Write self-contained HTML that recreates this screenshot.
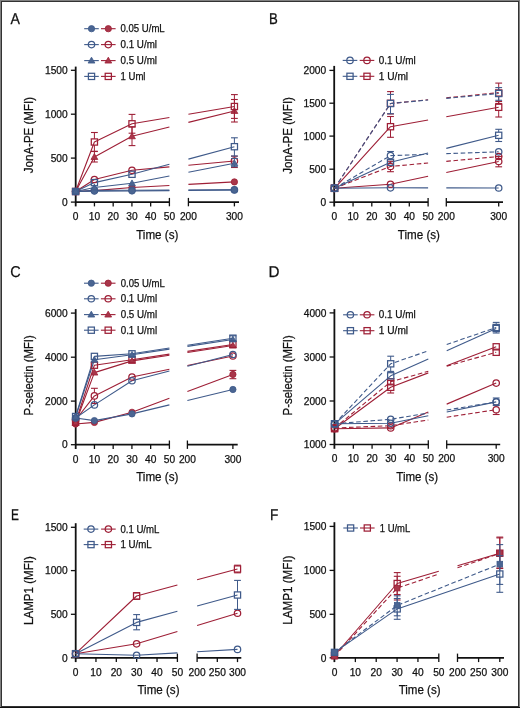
<!DOCTYPE html>
<html><head><meta charset="utf-8"><style>
html,body{margin:0;padding:0;background:#fff;}
body{width:520px;height:708px;overflow:hidden;}
svg{display:block;font-family:"Liberation Sans", sans-serif;will-change:transform;}
text{stroke:#111;stroke-width:0.25px;}
</style></head><body>
<svg width="520" height="708" viewBox="0 0 520 708">
<rect x="0" y="0" width="520" height="708" fill="#fff"/>
<line x1="75.7" y1="66.6" x2="75.7" y2="206.4" stroke="#111" stroke-width="1.8" stroke-linecap="butt"/>
<line x1="70.9" y1="70.3" x2="75.7" y2="70.3" stroke="#111" stroke-width="1.3" stroke-linecap="butt"/>
<text x="67.7" y="74" font-size="10.2" text-anchor="end" fill="#111">1500</text>
<line x1="70.9" y1="114.2" x2="75.7" y2="114.2" stroke="#111" stroke-width="1.3" stroke-linecap="butt"/>
<text x="67.7" y="117.9" font-size="10.2" text-anchor="end" fill="#111">1000</text>
<line x1="70.9" y1="158.1" x2="75.7" y2="158.1" stroke="#111" stroke-width="1.3" stroke-linecap="butt"/>
<text x="67.7" y="161.8" font-size="10.2" text-anchor="end" fill="#111">500</text>
<line x1="70.9" y1="202.1" x2="75.7" y2="202.1" stroke="#111" stroke-width="1.3" stroke-linecap="butt"/>
<text x="67.7" y="205.8" font-size="10.2" text-anchor="end" fill="#111">0</text>
<line x1="75.7" y1="202.1" x2="169.4" y2="202.1" stroke="#111" stroke-width="1.7" stroke-linecap="butt"/>
<line x1="169.4" y1="197.9" x2="169.4" y2="206.3" stroke="#111" stroke-width="1.3" stroke-linecap="butt"/>
<text x="75.7" y="219.9" font-size="10.2" text-anchor="middle" fill="#111">0</text>
<line x1="94.44" y1="202.1" x2="94.44" y2="206.4" stroke="#111" stroke-width="1.3" stroke-linecap="butt"/>
<text x="94.44" y="219.9" font-size="10.2" text-anchor="middle" fill="#111">10</text>
<line x1="113.18" y1="202.1" x2="113.18" y2="206.4" stroke="#111" stroke-width="1.3" stroke-linecap="butt"/>
<text x="113.18" y="219.9" font-size="10.2" text-anchor="middle" fill="#111">20</text>
<line x1="131.92" y1="202.1" x2="131.92" y2="206.4" stroke="#111" stroke-width="1.3" stroke-linecap="butt"/>
<text x="131.92" y="219.9" font-size="10.2" text-anchor="middle" fill="#111">30</text>
<line x1="150.66" y1="202.1" x2="150.66" y2="206.4" stroke="#111" stroke-width="1.3" stroke-linecap="butt"/>
<text x="150.66" y="219.9" font-size="10.2" text-anchor="middle" fill="#111">40</text>
<text x="169.4" y="219.9" font-size="10.2" text-anchor="middle" fill="#111">50</text>
<line x1="188.4" y1="202.1" x2="239" y2="202.1" stroke="#111" stroke-width="1.7" stroke-linecap="butt"/>
<line x1="188.4" y1="197.9" x2="188.4" y2="206.3" stroke="#111" stroke-width="1.3" stroke-linecap="butt"/>
<text x="188.4" y="219.9" font-size="10.2" text-anchor="middle" fill="#111">200</text>
<line x1="234.4" y1="202.1" x2="234.4" y2="206.4" stroke="#111" stroke-width="1.3" stroke-linecap="butt"/>
<text x="234.4" y="219.9" font-size="10.2" text-anchor="middle" fill="#111">300</text>
<text x="157.3" y="238.5" font-size="13.1" text-anchor="middle" fill="#111" textLength="42.3" lengthAdjust="spacingAndGlyphs">Time (s)</text>
<text x="33.5" y="135.1" font-size="13.4" text-anchor="middle" fill="#111" textLength="76.2" lengthAdjust="spacingAndGlyphs" transform="rotate(-90 33.5 135.1)">JonA-PE (MFI)</text>
<text transform="translate(10.4 23.8) scale(0.9 1)" x="0" y="0" font-size="15.7" text-rendering="geometricPrecision" fill="#111">A</text>
<line x1="84.2" y1="28.7" x2="98.8" y2="28.7" stroke="#3f5a8a" stroke-width="1.1" stroke-linecap="butt"/>
<circle cx="91.5" cy="28.7" r="3.15" fill="#4a6592" stroke="#3f5a8a" stroke-width="0.8"/>
<line x1="101" y1="28.7" x2="115.6" y2="28.7" stroke="#9e1f36" stroke-width="1.1" stroke-linecap="butt"/>
<circle cx="108.3" cy="28.7" r="3.15" fill="#a8364a" stroke="#9e1f36" stroke-width="0.8"/>
<text x="120.5" y="32.3" font-size="10.2" text-anchor="start" fill="#111" textLength="44.2" lengthAdjust="spacingAndGlyphs">0.05 U/mL</text>
<line x1="84.2" y1="44.6" x2="98.8" y2="44.6" stroke="#3f5a8a" stroke-width="1.1" stroke-linecap="butt"/>
<circle cx="91.5" cy="44.6" r="3.2" fill="none" stroke="#3f5a8a" stroke-width="1.25"/>
<line x1="101" y1="44.6" x2="115.6" y2="44.6" stroke="#9e1f36" stroke-width="1.1" stroke-linecap="butt"/>
<circle cx="108.3" cy="44.6" r="3.2" fill="none" stroke="#9e1f36" stroke-width="1.25"/>
<text x="120.5" y="48.2" font-size="10.2" text-anchor="start" fill="#111" textLength="36.5" lengthAdjust="spacingAndGlyphs">0.1 U/ml</text>
<line x1="84.2" y1="60.6" x2="98.8" y2="60.6" stroke="#3f5a8a" stroke-width="1.1" stroke-linecap="butt"/>
<polygon points="91.5,57.2 94.9,63.05 88.1,63.05" fill="#4a6592" stroke="#3f5a8a" stroke-width="0.8" stroke-linejoin="round"/>
<line x1="101" y1="60.6" x2="115.6" y2="60.6" stroke="#9e1f36" stroke-width="1.1" stroke-linecap="butt"/>
<polygon points="108.3,57.2 111.7,63.05 104.9,63.05" fill="#a8364a" stroke="#9e1f36" stroke-width="0.8" stroke-linejoin="round"/>
<text x="120.5" y="64.2" font-size="10.2" text-anchor="start" fill="#111" textLength="36.5" lengthAdjust="spacingAndGlyphs">0.5 U/ml</text>
<line x1="84.2" y1="76.4" x2="98.8" y2="76.4" stroke="#3f5a8a" stroke-width="1.1" stroke-linecap="butt"/>
<rect x="88.4" y="73.3" width="6.2" height="6.2" fill="none" stroke="#3f5a8a" stroke-width="1.25"/>
<line x1="101" y1="76.4" x2="115.6" y2="76.4" stroke="#9e1f36" stroke-width="1.1" stroke-linecap="butt"/>
<rect x="105.2" y="73.3" width="6.2" height="6.2" fill="none" stroke="#9e1f36" stroke-width="1.25"/>
<text x="120.5" y="80" font-size="10.2" text-anchor="start" fill="#111" textLength="25" lengthAdjust="spacingAndGlyphs">1 Uml</text>
<polyline points="75.6,191.5 94.4,190.6 132,187.5 169.4,185.45" fill="none" stroke="#9e1f36" stroke-width="1.1" stroke-linejoin="round"/>
<polyline points="188.4,184.42 234.4,181.9" fill="none" stroke="#9e1f36" stroke-width="1.1" stroke-linejoin="round"/>
<polyline points="75.6,191.5 94.4,179.5 132,170.3 169.4,166.9" fill="none" stroke="#9e1f36" stroke-width="1.1" stroke-linejoin="round"/>
<polyline points="188.4,165.18 234.4,161" fill="none" stroke="#9e1f36" stroke-width="1.1" stroke-linejoin="round"/>
<polyline points="75.6,191.5 94.4,157 132,136.3 169.4,127.06" fill="none" stroke="#9e1f36" stroke-width="1.1" stroke-linejoin="round"/>
<polyline points="188.4,122.37 234.4,111" fill="none" stroke="#9e1f36" stroke-width="1.1" stroke-linejoin="round"/>
<polyline points="75.6,191.5 94.4,142 132,123.8 169.4,117.48" fill="none" stroke="#9e1f36" stroke-width="1.1" stroke-linejoin="round"/>
<polyline points="188.4,114.27 234.4,106.5" fill="none" stroke="#9e1f36" stroke-width="1.1" stroke-linejoin="round"/>
<polyline points="75.6,191.5 94.4,190.4 132,190.2 169.4,190.09" fill="none" stroke="#3f5a8a" stroke-width="1.1" stroke-linejoin="round"/>
<polyline points="188.4,190.03 234.4,189.9" fill="none" stroke="#3f5a8a" stroke-width="1.1" stroke-linejoin="round"/>
<polyline points="75.6,191.5 94.4,191.2 132,191 169.4,190.6" fill="none" stroke="#3f5a8a" stroke-width="1.1" stroke-linejoin="round"/>
<polyline points="188.4,190.39 234.4,189.9" fill="none" stroke="#3f5a8a" stroke-width="1.1" stroke-linejoin="round"/>
<polyline points="75.6,191.5 94.4,187.5 132,183.3 169.4,176" fill="none" stroke="#3f5a8a" stroke-width="1.1" stroke-linejoin="round"/>
<polyline points="188.4,172.28 234.4,163.3" fill="none" stroke="#3f5a8a" stroke-width="1.1" stroke-linejoin="round"/>
<polyline points="75.6,191.5 94.4,182.6 132,174.3 169.4,164.22" fill="none" stroke="#3f5a8a" stroke-width="1.1" stroke-linejoin="round"/>
<polyline points="188.4,159.1 234.4,146.7" fill="none" stroke="#3f5a8a" stroke-width="1.1" stroke-linejoin="round"/>
<circle cx="75.6" cy="191.5" r="3.15" fill="#a8364a" stroke="#9e1f36" stroke-width="0.8"/>
<circle cx="94.4" cy="190.6" r="3.15" fill="#a8364a" stroke="#9e1f36" stroke-width="0.8"/>
<circle cx="132" cy="187.5" r="3.15" fill="#a8364a" stroke="#9e1f36" stroke-width="0.8"/>
<circle cx="234.4" cy="181.9" r="3.15" fill="#a8364a" stroke="#9e1f36" stroke-width="0.8"/>
<line x1="234.4" y1="156.2" x2="234.4" y2="157.8" stroke="#9e1f36" stroke-width="1.0" stroke-linecap="butt"/>
<line x1="234.4" y1="164.2" x2="234.4" y2="167.5" stroke="#9e1f36" stroke-width="1.0" stroke-linecap="butt"/>
<line x1="231" y1="156.2" x2="237.8" y2="156.2" stroke="#9e1f36" stroke-width="1.1" stroke-linecap="butt"/>
<line x1="231" y1="167.5" x2="237.8" y2="167.5" stroke="#9e1f36" stroke-width="1.1" stroke-linecap="butt"/>
<circle cx="75.6" cy="191.5" r="3.2" fill="none" stroke="#9e1f36" stroke-width="1.25"/>
<circle cx="94.4" cy="179.5" r="3.2" fill="none" stroke="#9e1f36" stroke-width="1.25"/>
<circle cx="132" cy="170.3" r="3.2" fill="none" stroke="#9e1f36" stroke-width="1.25"/>
<circle cx="234.4" cy="161" r="3.2" fill="none" stroke="#9e1f36" stroke-width="1.25"/>
<line x1="94.4" y1="151.5" x2="94.4" y2="162" stroke="#9e1f36" stroke-width="1.0" stroke-linecap="butt"/>
<line x1="91" y1="151.5" x2="97.8" y2="151.5" stroke="#9e1f36" stroke-width="1.1" stroke-linecap="butt"/>
<line x1="91" y1="162" x2="97.8" y2="162" stroke="#9e1f36" stroke-width="1.1" stroke-linecap="butt"/>
<line x1="132" y1="126.9" x2="132" y2="145.6" stroke="#9e1f36" stroke-width="1.0" stroke-linecap="butt"/>
<line x1="128.6" y1="126.9" x2="135.4" y2="126.9" stroke="#9e1f36" stroke-width="1.1" stroke-linecap="butt"/>
<line x1="128.6" y1="145.6" x2="135.4" y2="145.6" stroke="#9e1f36" stroke-width="1.1" stroke-linecap="butt"/>
<line x1="234.4" y1="99.5" x2="234.4" y2="122" stroke="#9e1f36" stroke-width="1.0" stroke-linecap="butt"/>
<line x1="231" y1="99.5" x2="237.8" y2="99.5" stroke="#9e1f36" stroke-width="1.1" stroke-linecap="butt"/>
<line x1="231" y1="122" x2="237.8" y2="122" stroke="#9e1f36" stroke-width="1.1" stroke-linecap="butt"/>
<polygon points="75.6,188.1 79,193.95 72.2,193.95" fill="#a8364a" stroke="#9e1f36" stroke-width="0.8" stroke-linejoin="round"/>
<polygon points="94.4,153.6 97.8,159.45 91,159.45" fill="#a8364a" stroke="#9e1f36" stroke-width="0.8" stroke-linejoin="round"/>
<polygon points="132,132.9 135.4,138.75 128.6,138.75" fill="#a8364a" stroke="#9e1f36" stroke-width="0.8" stroke-linejoin="round"/>
<polygon points="234.4,107.6 237.8,113.45 231,113.45" fill="#a8364a" stroke="#9e1f36" stroke-width="0.8" stroke-linejoin="round"/>
<line x1="94.4" y1="132.5" x2="94.4" y2="138.9" stroke="#9e1f36" stroke-width="1.0" stroke-linecap="butt"/>
<line x1="94.4" y1="145.1" x2="94.4" y2="151.3" stroke="#9e1f36" stroke-width="1.0" stroke-linecap="butt"/>
<line x1="91" y1="132.5" x2="97.8" y2="132.5" stroke="#9e1f36" stroke-width="1.1" stroke-linecap="butt"/>
<line x1="91" y1="151.3" x2="97.8" y2="151.3" stroke="#9e1f36" stroke-width="1.1" stroke-linecap="butt"/>
<line x1="132" y1="114.4" x2="132" y2="120.7" stroke="#9e1f36" stroke-width="1.0" stroke-linecap="butt"/>
<line x1="132" y1="126.9" x2="132" y2="133.2" stroke="#9e1f36" stroke-width="1.0" stroke-linecap="butt"/>
<line x1="128.6" y1="114.4" x2="135.4" y2="114.4" stroke="#9e1f36" stroke-width="1.1" stroke-linecap="butt"/>
<line x1="128.6" y1="133.2" x2="135.4" y2="133.2" stroke="#9e1f36" stroke-width="1.1" stroke-linecap="butt"/>
<line x1="234.4" y1="94.6" x2="234.4" y2="103.4" stroke="#9e1f36" stroke-width="1.0" stroke-linecap="butt"/>
<line x1="234.4" y1="109.6" x2="234.4" y2="118.4" stroke="#9e1f36" stroke-width="1.0" stroke-linecap="butt"/>
<line x1="231" y1="94.6" x2="237.8" y2="94.6" stroke="#9e1f36" stroke-width="1.1" stroke-linecap="butt"/>
<line x1="231" y1="118.4" x2="237.8" y2="118.4" stroke="#9e1f36" stroke-width="1.1" stroke-linecap="butt"/>
<rect x="72.5" y="188.4" width="6.2" height="6.2" fill="none" stroke="#9e1f36" stroke-width="1.25"/>
<rect x="91.3" y="138.9" width="6.2" height="6.2" fill="none" stroke="#9e1f36" stroke-width="1.25"/>
<rect x="128.9" y="120.7" width="6.2" height="6.2" fill="none" stroke="#9e1f36" stroke-width="1.25"/>
<rect x="231.3" y="103.4" width="6.2" height="6.2" fill="none" stroke="#9e1f36" stroke-width="1.25"/>
<circle cx="75.6" cy="191.5" r="3.2" fill="none" stroke="#3f5a8a" stroke-width="1.25"/>
<circle cx="94.4" cy="190.4" r="3.2" fill="none" stroke="#3f5a8a" stroke-width="1.25"/>
<circle cx="132" cy="190.2" r="3.2" fill="none" stroke="#3f5a8a" stroke-width="1.25"/>
<circle cx="234.4" cy="189.9" r="3.2" fill="none" stroke="#3f5a8a" stroke-width="1.25"/>
<circle cx="75.6" cy="191.5" r="3.15" fill="#4a6592" stroke="#3f5a8a" stroke-width="0.8"/>
<circle cx="94.4" cy="191.2" r="3.15" fill="#4a6592" stroke="#3f5a8a" stroke-width="0.8"/>
<circle cx="132" cy="191" r="3.15" fill="#4a6592" stroke="#3f5a8a" stroke-width="0.8"/>
<circle cx="234.4" cy="189.9" r="3.15" fill="#4a6592" stroke="#3f5a8a" stroke-width="0.8"/>
<line x1="234.4" y1="158.5" x2="234.4" y2="166.7" stroke="#3f5a8a" stroke-width="1.0" stroke-linecap="butt"/>
<line x1="231" y1="158.5" x2="237.8" y2="158.5" stroke="#3f5a8a" stroke-width="1.1" stroke-linecap="butt"/>
<line x1="231" y1="166.7" x2="237.8" y2="166.7" stroke="#3f5a8a" stroke-width="1.1" stroke-linecap="butt"/>
<polygon points="75.6,188.1 79,193.95 72.2,193.95" fill="#4a6592" stroke="#3f5a8a" stroke-width="0.8" stroke-linejoin="round"/>
<polygon points="94.4,184.1 97.8,189.95 91,189.95" fill="#4a6592" stroke="#3f5a8a" stroke-width="0.8" stroke-linejoin="round"/>
<polygon points="132,179.9 135.4,185.75 128.6,185.75" fill="#4a6592" stroke="#3f5a8a" stroke-width="0.8" stroke-linejoin="round"/>
<polygon points="234.4,159.9 237.8,165.75 231,165.75" fill="#4a6592" stroke="#3f5a8a" stroke-width="0.8" stroke-linejoin="round"/>
<line x1="234.4" y1="137.8" x2="234.4" y2="143.6" stroke="#3f5a8a" stroke-width="1.0" stroke-linecap="butt"/>
<line x1="234.4" y1="149.8" x2="234.4" y2="156" stroke="#3f5a8a" stroke-width="1.0" stroke-linecap="butt"/>
<line x1="231" y1="137.8" x2="237.8" y2="137.8" stroke="#3f5a8a" stroke-width="1.1" stroke-linecap="butt"/>
<line x1="231" y1="156" x2="237.8" y2="156" stroke="#3f5a8a" stroke-width="1.1" stroke-linecap="butt"/>
<rect x="72.5" y="188.4" width="6.2" height="6.2" fill="none" stroke="#3f5a8a" stroke-width="1.25"/>
<rect x="91.3" y="179.5" width="6.2" height="6.2" fill="none" stroke="#3f5a8a" stroke-width="1.25"/>
<rect x="128.9" y="171.2" width="6.2" height="6.2" fill="none" stroke="#3f5a8a" stroke-width="1.25"/>
<rect x="231.3" y="143.6" width="6.2" height="6.2" fill="none" stroke="#3f5a8a" stroke-width="1.25"/>
<line x1="334.2" y1="65.9" x2="334.2" y2="206.5" stroke="#111" stroke-width="1.8" stroke-linecap="butt"/>
<line x1="329.4" y1="70.4" x2="334.2" y2="70.4" stroke="#111" stroke-width="1.3" stroke-linecap="butt"/>
<text x="326.2" y="74.1" font-size="10.2" text-anchor="end" fill="#111">2000</text>
<line x1="329.4" y1="103.2" x2="334.2" y2="103.2" stroke="#111" stroke-width="1.3" stroke-linecap="butt"/>
<text x="326.2" y="106.9" font-size="10.2" text-anchor="end" fill="#111">1500</text>
<line x1="329.4" y1="136.1" x2="334.2" y2="136.1" stroke="#111" stroke-width="1.3" stroke-linecap="butt"/>
<text x="326.2" y="139.8" font-size="10.2" text-anchor="end" fill="#111">1000</text>
<line x1="329.4" y1="169.2" x2="334.2" y2="169.2" stroke="#111" stroke-width="1.3" stroke-linecap="butt"/>
<text x="326.2" y="172.9" font-size="10.2" text-anchor="end" fill="#111">500</text>
<line x1="329.4" y1="202.2" x2="334.2" y2="202.2" stroke="#111" stroke-width="1.3" stroke-linecap="butt"/>
<text x="326.2" y="205.9" font-size="10.2" text-anchor="end" fill="#111">0</text>
<line x1="334.2" y1="202.2" x2="428.1" y2="202.2" stroke="#111" stroke-width="1.7" stroke-linecap="butt"/>
<line x1="428.1" y1="198" x2="428.1" y2="206.4" stroke="#111" stroke-width="1.3" stroke-linecap="butt"/>
<text x="334.3" y="220" font-size="10.2" text-anchor="middle" fill="#111">0</text>
<line x1="353.05" y1="202.2" x2="353.05" y2="206.5" stroke="#111" stroke-width="1.3" stroke-linecap="butt"/>
<text x="353.05" y="220" font-size="10.2" text-anchor="middle" fill="#111">10</text>
<line x1="371.8" y1="202.2" x2="371.8" y2="206.5" stroke="#111" stroke-width="1.3" stroke-linecap="butt"/>
<text x="371.8" y="220" font-size="10.2" text-anchor="middle" fill="#111">20</text>
<line x1="390.55" y1="202.2" x2="390.55" y2="206.5" stroke="#111" stroke-width="1.3" stroke-linecap="butt"/>
<text x="390.55" y="220" font-size="10.2" text-anchor="middle" fill="#111">30</text>
<line x1="409.3" y1="202.2" x2="409.3" y2="206.5" stroke="#111" stroke-width="1.3" stroke-linecap="butt"/>
<text x="409.3" y="220" font-size="10.2" text-anchor="middle" fill="#111">40</text>
<text x="428.05" y="220" font-size="10.2" text-anchor="middle" fill="#111">50</text>
<line x1="446.3" y1="202.2" x2="503" y2="202.2" stroke="#111" stroke-width="1.7" stroke-linecap="butt"/>
<line x1="446.3" y1="198" x2="446.3" y2="206.4" stroke="#111" stroke-width="1.3" stroke-linecap="butt"/>
<text x="446.3" y="220" font-size="10.2" text-anchor="middle" fill="#111">200</text>
<line x1="498.7" y1="202.2" x2="498.7" y2="206.5" stroke="#111" stroke-width="1.3" stroke-linecap="butt"/>
<text x="498.7" y="220" font-size="10.2" text-anchor="middle" fill="#111">300</text>
<text x="418.9" y="238.6" font-size="13.1" text-anchor="middle" fill="#111" textLength="42.2" lengthAdjust="spacingAndGlyphs">Time (s)</text>
<text x="292.3" y="135.4" font-size="13.4" text-anchor="middle" fill="#111" textLength="76.8" lengthAdjust="spacingAndGlyphs" transform="rotate(-90 292.3 135.4)">JonA-PE (MFI)</text>
<text transform="translate(269 23.8) scale(0.84 1)" x="0" y="0" font-size="15.7" text-rendering="geometricPrecision" fill="#111">B</text>
<line x1="342.7" y1="60.4" x2="357.3" y2="60.4" stroke="#3f5a8a" stroke-width="1.1" stroke-linecap="butt"/>
<circle cx="350" cy="60.4" r="3.2" fill="none" stroke="#3f5a8a" stroke-width="1.25"/>
<line x1="359.7" y1="60.4" x2="374.3" y2="60.4" stroke="#9e1f36" stroke-width="1.1" stroke-linecap="butt"/>
<circle cx="367" cy="60.4" r="3.2" fill="none" stroke="#9e1f36" stroke-width="1.25"/>
<text x="378.8" y="64" font-size="10.2" text-anchor="start" fill="#111" textLength="36.9" lengthAdjust="spacingAndGlyphs">0.1 U/ml</text>
<line x1="342.7" y1="76.3" x2="357.3" y2="76.3" stroke="#3f5a8a" stroke-width="1.1" stroke-linecap="butt"/>
<rect x="346.9" y="73.2" width="6.2" height="6.2" fill="none" stroke="#3f5a8a" stroke-width="1.25"/>
<line x1="359.7" y1="76.3" x2="374.3" y2="76.3" stroke="#9e1f36" stroke-width="1.1" stroke-linecap="butt"/>
<rect x="363.9" y="73.2" width="6.2" height="6.2" fill="none" stroke="#9e1f36" stroke-width="1.25"/>
<text x="378.8" y="79.9" font-size="10.2" text-anchor="start" fill="#111" textLength="29.3" lengthAdjust="spacingAndGlyphs">1 U/ml</text>
<polyline points="334.5,188.3 390.5,184.2 428.1,176.31" fill="none" stroke="#9e1f36" stroke-width="1.1" stroke-linejoin="round"/>
<polyline points="446.3,172.49 498.7,161.5" fill="none" stroke="#9e1f36" stroke-width="1.1" stroke-linejoin="round"/>
<polyline points="334.5,188.3 390.5,166.5 428.1,163.02" fill="none" stroke="#9e1f36" stroke-width="1.1" stroke-linejoin="round" stroke-dasharray="4.6,2.6"/>
<polyline points="446.3,161.34 498.7,156.5" fill="none" stroke="#9e1f36" stroke-width="1.1" stroke-linejoin="round" stroke-dasharray="4.6,2.6"/>
<polyline points="334.5,188.3 390.5,126.7 428.1,119.96" fill="none" stroke="#9e1f36" stroke-width="1.1" stroke-linejoin="round"/>
<polyline points="446.3,116.7 498.7,107.3" fill="none" stroke="#9e1f36" stroke-width="1.1" stroke-linejoin="round"/>
<polyline points="334.5,188.3 390.5,103.5 428.1,99.71" fill="none" stroke="#9e1f36" stroke-width="1.1" stroke-linejoin="round" stroke-dasharray="4.6,2.6"/>
<polyline points="446.3,97.88 498.7,92.6" fill="none" stroke="#9e1f36" stroke-width="1.1" stroke-linejoin="round" stroke-dasharray="4.6,2.6"/>
<polyline points="334.5,188.3 390.5,187.8 428.1,187.87" fill="none" stroke="#3f5a8a" stroke-width="1.1" stroke-linejoin="round"/>
<polyline points="446.3,187.9 498.7,188" fill="none" stroke="#3f5a8a" stroke-width="1.1" stroke-linejoin="round"/>
<polyline points="334.5,188.3 390.5,155.6 428.1,154.28" fill="none" stroke="#3f5a8a" stroke-width="1.1" stroke-linejoin="round" stroke-dasharray="4.6,2.6"/>
<polyline points="446.3,153.64 498.7,151.8" fill="none" stroke="#3f5a8a" stroke-width="1.1" stroke-linejoin="round" stroke-dasharray="4.6,2.6"/>
<polyline points="334.5,188.3 390.5,162.3 428.1,152.92" fill="none" stroke="#3f5a8a" stroke-width="1.1" stroke-linejoin="round"/>
<polyline points="446.3,148.38 498.7,135.3" fill="none" stroke="#3f5a8a" stroke-width="1.1" stroke-linejoin="round"/>
<polyline points="334.5,188.3 390.5,103.5 428.1,100.02" fill="none" stroke="#3f5a8a" stroke-width="1.1" stroke-linejoin="round" stroke-dasharray="4.6,2.6"/>
<polyline points="446.3,98.34 498.7,93.5" fill="none" stroke="#3f5a8a" stroke-width="1.1" stroke-linejoin="round" stroke-dasharray="4.6,2.6"/>
<line x1="498.7" y1="156.5" x2="498.7" y2="158.3" stroke="#9e1f36" stroke-width="1.0" stroke-linecap="butt"/>
<line x1="498.7" y1="164.7" x2="498.7" y2="166.8" stroke="#9e1f36" stroke-width="1.0" stroke-linecap="butt"/>
<line x1="495.3" y1="156.5" x2="502.1" y2="156.5" stroke="#9e1f36" stroke-width="1.1" stroke-linecap="butt"/>
<line x1="495.3" y1="166.8" x2="502.1" y2="166.8" stroke="#9e1f36" stroke-width="1.1" stroke-linecap="butt"/>
<circle cx="334.5" cy="188.3" r="3.2" fill="none" stroke="#9e1f36" stroke-width="1.25"/>
<circle cx="390.5" cy="184.2" r="3.2" fill="none" stroke="#9e1f36" stroke-width="1.25"/>
<circle cx="498.7" cy="161.5" r="3.2" fill="none" stroke="#9e1f36" stroke-width="1.25"/>
<line x1="390.5" y1="161.3" x2="390.5" y2="163.3" stroke="#9e1f36" stroke-width="1.0" stroke-linecap="butt"/>
<line x1="390.5" y1="169.7" x2="390.5" y2="171.7" stroke="#9e1f36" stroke-width="1.0" stroke-linecap="butt"/>
<line x1="387.1" y1="161.3" x2="393.9" y2="161.3" stroke="#9e1f36" stroke-width="1.1" stroke-linecap="butt"/>
<line x1="387.1" y1="171.7" x2="393.9" y2="171.7" stroke="#9e1f36" stroke-width="1.1" stroke-linecap="butt"/>
<circle cx="334.5" cy="188.3" r="3.2" fill="none" stroke="#9e1f36" stroke-width="1.25"/>
<circle cx="390.5" cy="166.5" r="3.2" fill="none" stroke="#9e1f36" stroke-width="1.25"/>
<circle cx="498.7" cy="156.5" r="3.2" fill="none" stroke="#9e1f36" stroke-width="1.25"/>
<line x1="390.5" y1="116.5" x2="390.5" y2="123.6" stroke="#9e1f36" stroke-width="1.0" stroke-linecap="butt"/>
<line x1="390.5" y1="129.8" x2="390.5" y2="137.3" stroke="#9e1f36" stroke-width="1.0" stroke-linecap="butt"/>
<line x1="387.1" y1="116.5" x2="393.9" y2="116.5" stroke="#9e1f36" stroke-width="1.1" stroke-linecap="butt"/>
<line x1="387.1" y1="137.3" x2="393.9" y2="137.3" stroke="#9e1f36" stroke-width="1.1" stroke-linecap="butt"/>
<line x1="498.7" y1="101.5" x2="498.7" y2="104.2" stroke="#9e1f36" stroke-width="1.0" stroke-linecap="butt"/>
<line x1="498.7" y1="110.4" x2="498.7" y2="117" stroke="#9e1f36" stroke-width="1.0" stroke-linecap="butt"/>
<line x1="495.3" y1="101.5" x2="502.1" y2="101.5" stroke="#9e1f36" stroke-width="1.1" stroke-linecap="butt"/>
<line x1="495.3" y1="117" x2="502.1" y2="117" stroke="#9e1f36" stroke-width="1.1" stroke-linecap="butt"/>
<rect x="331.4" y="185.2" width="6.2" height="6.2" fill="none" stroke="#9e1f36" stroke-width="1.25"/>
<rect x="387.4" y="123.6" width="6.2" height="6.2" fill="none" stroke="#9e1f36" stroke-width="1.25"/>
<rect x="495.6" y="104.2" width="6.2" height="6.2" fill="none" stroke="#9e1f36" stroke-width="1.25"/>
<line x1="390.5" y1="91.6" x2="390.5" y2="100.2" stroke="#9e1f36" stroke-width="1.0" stroke-linecap="butt"/>
<line x1="390.5" y1="106.4" x2="390.5" y2="114" stroke="#9e1f36" stroke-width="1.0" stroke-linecap="butt"/>
<line x1="387.1" y1="91.6" x2="393.9" y2="91.6" stroke="#9e1f36" stroke-width="1.1" stroke-linecap="butt"/>
<line x1="387.1" y1="114" x2="393.9" y2="114" stroke="#9e1f36" stroke-width="1.1" stroke-linecap="butt"/>
<line x1="498.7" y1="83.1" x2="498.7" y2="89.9" stroke="#9e1f36" stroke-width="1.0" stroke-linecap="butt"/>
<line x1="498.7" y1="96.1" x2="498.7" y2="103.5" stroke="#9e1f36" stroke-width="1.0" stroke-linecap="butt"/>
<line x1="495.3" y1="83.1" x2="502.1" y2="83.1" stroke="#9e1f36" stroke-width="1.1" stroke-linecap="butt"/>
<line x1="495.3" y1="103.5" x2="502.1" y2="103.5" stroke="#9e1f36" stroke-width="1.1" stroke-linecap="butt"/>
<rect x="331.4" y="185.2" width="6.2" height="6.2" fill="none" stroke="#9e1f36" stroke-width="1.25"/>
<rect x="387.4" y="100.2" width="6.2" height="6.2" fill="none" stroke="#9e1f36" stroke-width="1.25"/>
<rect x="495.6" y="89.9" width="6.2" height="6.2" fill="none" stroke="#9e1f36" stroke-width="1.25"/>
<circle cx="334.5" cy="188.3" r="3.2" fill="none" stroke="#3f5a8a" stroke-width="1.25"/>
<circle cx="390.5" cy="187.8" r="3.2" fill="none" stroke="#3f5a8a" stroke-width="1.25"/>
<circle cx="498.7" cy="188" r="3.2" fill="none" stroke="#3f5a8a" stroke-width="1.25"/>
<line x1="390.5" y1="151.5" x2="390.5" y2="152.4" stroke="#3f5a8a" stroke-width="1.0" stroke-linecap="butt"/>
<line x1="390.5" y1="158.8" x2="390.5" y2="159.7" stroke="#3f5a8a" stroke-width="1.0" stroke-linecap="butt"/>
<line x1="387.1" y1="151.5" x2="393.9" y2="151.5" stroke="#3f5a8a" stroke-width="1.1" stroke-linecap="butt"/>
<line x1="387.1" y1="159.7" x2="393.9" y2="159.7" stroke="#3f5a8a" stroke-width="1.1" stroke-linecap="butt"/>
<circle cx="334.5" cy="188.3" r="3.2" fill="none" stroke="#3f5a8a" stroke-width="1.25"/>
<circle cx="390.5" cy="155.6" r="3.2" fill="none" stroke="#3f5a8a" stroke-width="1.25"/>
<circle cx="498.7" cy="151.8" r="3.2" fill="none" stroke="#3f5a8a" stroke-width="1.25"/>
<line x1="498.7" y1="129.3" x2="498.7" y2="132.2" stroke="#3f5a8a" stroke-width="1.0" stroke-linecap="butt"/>
<line x1="498.7" y1="138.4" x2="498.7" y2="141.5" stroke="#3f5a8a" stroke-width="1.0" stroke-linecap="butt"/>
<line x1="495.3" y1="129.3" x2="502.1" y2="129.3" stroke="#3f5a8a" stroke-width="1.1" stroke-linecap="butt"/>
<line x1="495.3" y1="141.5" x2="502.1" y2="141.5" stroke="#3f5a8a" stroke-width="1.1" stroke-linecap="butt"/>
<rect x="331.4" y="185.2" width="6.2" height="6.2" fill="none" stroke="#3f5a8a" stroke-width="1.25"/>
<rect x="387.4" y="159.2" width="6.2" height="6.2" fill="none" stroke="#3f5a8a" stroke-width="1.25"/>
<rect x="495.6" y="132.2" width="6.2" height="6.2" fill="none" stroke="#3f5a8a" stroke-width="1.25"/>
<line x1="390.5" y1="94.4" x2="390.5" y2="100.4" stroke="#3f5a8a" stroke-width="1.0" stroke-linecap="butt"/>
<line x1="390.5" y1="106.6" x2="390.5" y2="113.7" stroke="#3f5a8a" stroke-width="1.0" stroke-linecap="butt"/>
<line x1="387.1" y1="94.4" x2="393.9" y2="94.4" stroke="#3f5a8a" stroke-width="1.1" stroke-linecap="butt"/>
<line x1="387.1" y1="113.7" x2="393.9" y2="113.7" stroke="#3f5a8a" stroke-width="1.1" stroke-linecap="butt"/>
<line x1="498.7" y1="87.6" x2="498.7" y2="90.4" stroke="#3f5a8a" stroke-width="1.0" stroke-linecap="butt"/>
<line x1="498.7" y1="96.6" x2="498.7" y2="100.3" stroke="#3f5a8a" stroke-width="1.0" stroke-linecap="butt"/>
<line x1="495.3" y1="87.6" x2="502.1" y2="87.6" stroke="#3f5a8a" stroke-width="1.1" stroke-linecap="butt"/>
<line x1="495.3" y1="100.3" x2="502.1" y2="100.3" stroke="#3f5a8a" stroke-width="1.1" stroke-linecap="butt"/>
<rect x="331.4" y="185.2" width="6.2" height="6.2" fill="none" stroke="#3f5a8a" stroke-width="1.25"/>
<rect x="387.4" y="100.4" width="6.2" height="6.2" fill="none" stroke="#3f5a8a" stroke-width="1.25"/>
<rect x="495.6" y="90.4" width="6.2" height="6.2" fill="none" stroke="#3f5a8a" stroke-width="1.25"/>
<line x1="75.7" y1="309.1" x2="75.7" y2="449" stroke="#111" stroke-width="1.8" stroke-linecap="butt"/>
<line x1="70.9" y1="313.1" x2="75.7" y2="313.1" stroke="#111" stroke-width="1.3" stroke-linecap="butt"/>
<text x="67.7" y="316.8" font-size="10.2" text-anchor="end" fill="#111">6000</text>
<line x1="70.9" y1="357.2" x2="75.7" y2="357.2" stroke="#111" stroke-width="1.3" stroke-linecap="butt"/>
<text x="67.7" y="360.9" font-size="10.2" text-anchor="end" fill="#111">4000</text>
<line x1="70.9" y1="401.1" x2="75.7" y2="401.1" stroke="#111" stroke-width="1.3" stroke-linecap="butt"/>
<text x="67.7" y="404.8" font-size="10.2" text-anchor="end" fill="#111">2000</text>
<line x1="70.9" y1="444.7" x2="75.7" y2="444.7" stroke="#111" stroke-width="1.3" stroke-linecap="butt"/>
<text x="67.7" y="448.4" font-size="10.2" text-anchor="end" fill="#111">0</text>
<line x1="75.7" y1="444.7" x2="169.4" y2="444.7" stroke="#111" stroke-width="1.7" stroke-linecap="butt"/>
<line x1="169.4" y1="440.5" x2="169.4" y2="448.9" stroke="#111" stroke-width="1.3" stroke-linecap="butt"/>
<text x="75.7" y="462.5" font-size="10.2" text-anchor="middle" fill="#111">0</text>
<line x1="94.44" y1="444.7" x2="94.44" y2="449" stroke="#111" stroke-width="1.3" stroke-linecap="butt"/>
<text x="94.44" y="462.5" font-size="10.2" text-anchor="middle" fill="#111">10</text>
<line x1="113.18" y1="444.7" x2="113.18" y2="449" stroke="#111" stroke-width="1.3" stroke-linecap="butt"/>
<text x="113.18" y="462.5" font-size="10.2" text-anchor="middle" fill="#111">20</text>
<line x1="131.92" y1="444.7" x2="131.92" y2="449" stroke="#111" stroke-width="1.3" stroke-linecap="butt"/>
<text x="131.92" y="462.5" font-size="10.2" text-anchor="middle" fill="#111">30</text>
<line x1="150.66" y1="444.7" x2="150.66" y2="449" stroke="#111" stroke-width="1.3" stroke-linecap="butt"/>
<text x="150.66" y="462.5" font-size="10.2" text-anchor="middle" fill="#111">40</text>
<text x="169.4" y="462.5" font-size="10.2" text-anchor="middle" fill="#111">50</text>
<line x1="187.4" y1="444.7" x2="237.7" y2="444.7" stroke="#111" stroke-width="1.7" stroke-linecap="butt"/>
<line x1="187.4" y1="440.5" x2="187.4" y2="448.9" stroke="#111" stroke-width="1.3" stroke-linecap="butt"/>
<text x="187.4" y="462.5" font-size="10.2" text-anchor="middle" fill="#111">200</text>
<line x1="232.9" y1="444.7" x2="232.9" y2="449" stroke="#111" stroke-width="1.3" stroke-linecap="butt"/>
<text x="232.9" y="462.5" font-size="10.2" text-anchor="middle" fill="#111">300</text>
<text x="157.3" y="481.1" font-size="13.1" text-anchor="middle" fill="#111" textLength="42.3" lengthAdjust="spacingAndGlyphs">Time (s)</text>
<text x="33.3" y="375.3" font-size="13.4" text-anchor="middle" fill="#111" textLength="80.2" lengthAdjust="spacingAndGlyphs" transform="rotate(-90 33.3 375.3)">P-selectin (MFI)</text>
<text transform="translate(10.2 277.4) scale(0.92 1)" x="0" y="0" font-size="15.7" text-rendering="geometricPrecision" fill="#111">C</text>
<line x1="84" y1="283.2" x2="98.6" y2="283.2" stroke="#3f5a8a" stroke-width="1.1" stroke-linecap="butt"/>
<circle cx="91.3" cy="283.2" r="3.15" fill="#4a6592" stroke="#3f5a8a" stroke-width="0.8"/>
<line x1="100.9" y1="283.2" x2="115.5" y2="283.2" stroke="#9e1f36" stroke-width="1.1" stroke-linecap="butt"/>
<circle cx="108.2" cy="283.2" r="3.15" fill="#a8364a" stroke="#9e1f36" stroke-width="0.8"/>
<text x="120.7" y="286.8" font-size="10.2" text-anchor="start" fill="#111" textLength="44.1" lengthAdjust="spacingAndGlyphs">0.05 U/mL</text>
<line x1="84" y1="298.8" x2="98.6" y2="298.8" stroke="#3f5a8a" stroke-width="1.1" stroke-linecap="butt"/>
<circle cx="91.3" cy="298.8" r="3.2" fill="none" stroke="#3f5a8a" stroke-width="1.25"/>
<line x1="100.9" y1="298.8" x2="115.5" y2="298.8" stroke="#9e1f36" stroke-width="1.1" stroke-linecap="butt"/>
<circle cx="108.2" cy="298.8" r="3.2" fill="none" stroke="#9e1f36" stroke-width="1.25"/>
<text x="120.7" y="302.4" font-size="10.2" text-anchor="start" fill="#111" textLength="36.5" lengthAdjust="spacingAndGlyphs">0.1 U/ml</text>
<line x1="84" y1="314.6" x2="98.6" y2="314.6" stroke="#3f5a8a" stroke-width="1.1" stroke-linecap="butt"/>
<polygon points="91.3,311.2 94.7,317.05 87.9,317.05" fill="#4a6592" stroke="#3f5a8a" stroke-width="0.8" stroke-linejoin="round"/>
<line x1="100.9" y1="314.6" x2="115.5" y2="314.6" stroke="#9e1f36" stroke-width="1.1" stroke-linecap="butt"/>
<polygon points="108.2,311.2 111.6,317.05 104.8,317.05" fill="#a8364a" stroke="#9e1f36" stroke-width="0.8" stroke-linejoin="round"/>
<text x="120.7" y="318.2" font-size="10.2" text-anchor="start" fill="#111" textLength="36.5" lengthAdjust="spacingAndGlyphs">0.5 U/ml</text>
<line x1="84" y1="330.2" x2="98.6" y2="330.2" stroke="#3f5a8a" stroke-width="1.1" stroke-linecap="butt"/>
<rect x="88.2" y="327.1" width="6.2" height="6.2" fill="none" stroke="#3f5a8a" stroke-width="1.25"/>
<line x1="100.9" y1="330.2" x2="115.5" y2="330.2" stroke="#9e1f36" stroke-width="1.1" stroke-linecap="butt"/>
<rect x="105.1" y="327.1" width="6.2" height="6.2" fill="none" stroke="#9e1f36" stroke-width="1.25"/>
<text x="120.7" y="333.8" font-size="10.2" text-anchor="start" fill="#111" textLength="36.5" lengthAdjust="spacingAndGlyphs">0.1 U/ml</text>
<polyline points="75.6,424 94.4,422.4 132,412.3 169.4,398.25" fill="none" stroke="#9e1f36" stroke-width="1.1" stroke-linejoin="round"/>
<polyline points="187.4,391.49 232.9,374.4" fill="none" stroke="#9e1f36" stroke-width="1.1" stroke-linejoin="round"/>
<polyline points="75.6,420 94.4,395.9 132,377 169.4,369.22" fill="none" stroke="#9e1f36" stroke-width="1.1" stroke-linejoin="round"/>
<polyline points="187.4,365.47 232.9,356" fill="none" stroke="#9e1f36" stroke-width="1.1" stroke-linejoin="round"/>
<polyline points="75.6,423 94.4,372.6 132,360.9 169.4,355.19" fill="none" stroke="#9e1f36" stroke-width="1.1" stroke-linejoin="round"/>
<polyline points="187.4,352.44 232.9,345.5" fill="none" stroke="#9e1f36" stroke-width="1.1" stroke-linejoin="round"/>
<polyline points="75.6,422 94.4,365.2 132,359.8 169.4,354.13" fill="none" stroke="#9e1f36" stroke-width="1.1" stroke-linejoin="round"/>
<polyline points="187.4,351.4 232.9,344.5" fill="none" stroke="#9e1f36" stroke-width="1.1" stroke-linejoin="round"/>
<polyline points="75.6,418 94.4,420.6 132,413.9 169.4,404.86" fill="none" stroke="#3f5a8a" stroke-width="1.1" stroke-linejoin="round"/>
<polyline points="187.4,400.5 232.9,389.5" fill="none" stroke="#3f5a8a" stroke-width="1.1" stroke-linejoin="round"/>
<polyline points="75.6,418 94.4,404.9 132,380.7 169.4,370.99" fill="none" stroke="#3f5a8a" stroke-width="1.1" stroke-linejoin="round"/>
<polyline points="187.4,366.31 232.9,354.5" fill="none" stroke="#3f5a8a" stroke-width="1.1" stroke-linejoin="round"/>
<polyline points="75.6,417 94.4,359.8 132,354.8 169.4,349.13" fill="none" stroke="#3f5a8a" stroke-width="1.1" stroke-linejoin="round"/>
<polyline points="187.4,346.4 232.9,339.5" fill="none" stroke="#3f5a8a" stroke-width="1.1" stroke-linejoin="round"/>
<polyline points="75.6,416.5 94.4,356.4 132,353.8 169.4,348.02" fill="none" stroke="#3f5a8a" stroke-width="1.1" stroke-linejoin="round"/>
<polyline points="187.4,345.23 232.9,338.2" fill="none" stroke="#3f5a8a" stroke-width="1.1" stroke-linejoin="round"/>
<line x1="232.9" y1="370.4" x2="232.9" y2="378.7" stroke="#9e1f36" stroke-width="1.0" stroke-linecap="butt"/>
<line x1="229.5" y1="370.4" x2="236.3" y2="370.4" stroke="#9e1f36" stroke-width="1.1" stroke-linecap="butt"/>
<line x1="229.5" y1="378.7" x2="236.3" y2="378.7" stroke="#9e1f36" stroke-width="1.1" stroke-linecap="butt"/>
<circle cx="75.6" cy="424" r="3.15" fill="#a8364a" stroke="#9e1f36" stroke-width="0.8"/>
<circle cx="94.4" cy="422.4" r="3.15" fill="#a8364a" stroke="#9e1f36" stroke-width="0.8"/>
<circle cx="132" cy="412.3" r="3.15" fill="#a8364a" stroke="#9e1f36" stroke-width="0.8"/>
<circle cx="232.9" cy="374.4" r="3.15" fill="#a8364a" stroke="#9e1f36" stroke-width="0.8"/>
<line x1="94.4" y1="388.3" x2="94.4" y2="392.7" stroke="#9e1f36" stroke-width="1.0" stroke-linecap="butt"/>
<line x1="94.4" y1="399.1" x2="94.4" y2="403.5" stroke="#9e1f36" stroke-width="1.0" stroke-linecap="butt"/>
<line x1="91" y1="388.3" x2="97.8" y2="388.3" stroke="#9e1f36" stroke-width="1.1" stroke-linecap="butt"/>
<line x1="91" y1="403.5" x2="97.8" y2="403.5" stroke="#9e1f36" stroke-width="1.1" stroke-linecap="butt"/>
<circle cx="75.6" cy="420" r="3.2" fill="none" stroke="#9e1f36" stroke-width="1.25"/>
<circle cx="94.4" cy="395.9" r="3.2" fill="none" stroke="#9e1f36" stroke-width="1.25"/>
<circle cx="132" cy="377" r="3.2" fill="none" stroke="#9e1f36" stroke-width="1.25"/>
<circle cx="232.9" cy="356" r="3.2" fill="none" stroke="#9e1f36" stroke-width="1.25"/>
<polygon points="75.6,419.6 79,425.45 72.2,425.45" fill="#a8364a" stroke="#9e1f36" stroke-width="0.8" stroke-linejoin="round"/>
<polygon points="94.4,369.2 97.8,375.05 91,375.05" fill="#a8364a" stroke="#9e1f36" stroke-width="0.8" stroke-linejoin="round"/>
<polygon points="132,357.5 135.4,363.35 128.6,363.35" fill="#a8364a" stroke="#9e1f36" stroke-width="0.8" stroke-linejoin="round"/>
<polygon points="232.9,342.1 236.3,347.95 229.5,347.95" fill="#a8364a" stroke="#9e1f36" stroke-width="0.8" stroke-linejoin="round"/>
<rect x="72.5" y="418.9" width="6.2" height="6.2" fill="none" stroke="#9e1f36" stroke-width="1.25"/>
<rect x="91.3" y="362.1" width="6.2" height="6.2" fill="none" stroke="#9e1f36" stroke-width="1.25"/>
<rect x="128.9" y="356.7" width="6.2" height="6.2" fill="none" stroke="#9e1f36" stroke-width="1.25"/>
<rect x="229.8" y="341.4" width="6.2" height="6.2" fill="none" stroke="#9e1f36" stroke-width="1.25"/>
<circle cx="75.6" cy="418" r="3.15" fill="#4a6592" stroke="#3f5a8a" stroke-width="0.8"/>
<circle cx="94.4" cy="420.6" r="3.15" fill="#4a6592" stroke="#3f5a8a" stroke-width="0.8"/>
<circle cx="132" cy="413.9" r="3.15" fill="#4a6592" stroke="#3f5a8a" stroke-width="0.8"/>
<circle cx="232.9" cy="389.5" r="3.15" fill="#4a6592" stroke="#3f5a8a" stroke-width="0.8"/>
<circle cx="75.6" cy="418" r="3.2" fill="none" stroke="#3f5a8a" stroke-width="1.25"/>
<circle cx="94.4" cy="404.9" r="3.2" fill="none" stroke="#3f5a8a" stroke-width="1.25"/>
<circle cx="132" cy="380.7" r="3.2" fill="none" stroke="#3f5a8a" stroke-width="1.25"/>
<circle cx="232.9" cy="354.5" r="3.2" fill="none" stroke="#3f5a8a" stroke-width="1.25"/>
<polygon points="75.6,413.6 79,419.45 72.2,419.45" fill="#4a6592" stroke="#3f5a8a" stroke-width="0.8" stroke-linejoin="round"/>
<polygon points="94.4,356.4 97.8,362.25 91,362.25" fill="#4a6592" stroke="#3f5a8a" stroke-width="0.8" stroke-linejoin="round"/>
<polygon points="132,351.4 135.4,357.25 128.6,357.25" fill="#4a6592" stroke="#3f5a8a" stroke-width="0.8" stroke-linejoin="round"/>
<polygon points="232.9,336.1 236.3,341.95 229.5,341.95" fill="#4a6592" stroke="#3f5a8a" stroke-width="0.8" stroke-linejoin="round"/>
<line x1="229.5" y1="335.8" x2="236.3" y2="335.8" stroke="#3f5a8a" stroke-width="1.1" stroke-linecap="butt"/>
<line x1="229.5" y1="340.6" x2="236.3" y2="340.6" stroke="#3f5a8a" stroke-width="1.1" stroke-linecap="butt"/>
<rect x="72.5" y="413.4" width="6.2" height="6.2" fill="none" stroke="#3f5a8a" stroke-width="1.25"/>
<rect x="91.3" y="353.3" width="6.2" height="6.2" fill="none" stroke="#3f5a8a" stroke-width="1.25"/>
<rect x="128.9" y="350.7" width="6.2" height="6.2" fill="none" stroke="#3f5a8a" stroke-width="1.25"/>
<rect x="229.8" y="335.1" width="6.2" height="6.2" fill="none" stroke="#3f5a8a" stroke-width="1.25"/>
<line x1="334.4" y1="309.1" x2="334.4" y2="448.8" stroke="#111" stroke-width="1.8" stroke-linecap="butt"/>
<line x1="329.6" y1="312.9" x2="334.4" y2="312.9" stroke="#111" stroke-width="1.3" stroke-linecap="butt"/>
<text x="326.4" y="316.6" font-size="10.2" text-anchor="end" fill="#111">4000</text>
<line x1="329.6" y1="357" x2="334.4" y2="357" stroke="#111" stroke-width="1.3" stroke-linecap="butt"/>
<text x="326.4" y="360.7" font-size="10.2" text-anchor="end" fill="#111">3000</text>
<line x1="329.6" y1="401" x2="334.4" y2="401" stroke="#111" stroke-width="1.3" stroke-linecap="butt"/>
<text x="326.4" y="404.7" font-size="10.2" text-anchor="end" fill="#111">2000</text>
<line x1="329.6" y1="444.5" x2="334.4" y2="444.5" stroke="#111" stroke-width="1.3" stroke-linecap="butt"/>
<text x="326.4" y="448.2" font-size="10.2" text-anchor="end" fill="#111">1000</text>
<line x1="334.4" y1="444.5" x2="428.3" y2="444.5" stroke="#111" stroke-width="1.7" stroke-linecap="butt"/>
<line x1="428.3" y1="440.3" x2="428.3" y2="448.7" stroke="#111" stroke-width="1.3" stroke-linecap="butt"/>
<text x="334.6" y="462.3" font-size="10.2" text-anchor="middle" fill="#111">0</text>
<line x1="353.34" y1="444.5" x2="353.34" y2="448.8" stroke="#111" stroke-width="1.3" stroke-linecap="butt"/>
<text x="353.34" y="462.3" font-size="10.2" text-anchor="middle" fill="#111">10</text>
<line x1="372.08" y1="444.5" x2="372.08" y2="448.8" stroke="#111" stroke-width="1.3" stroke-linecap="butt"/>
<text x="372.08" y="462.3" font-size="10.2" text-anchor="middle" fill="#111">20</text>
<line x1="390.82" y1="444.5" x2="390.82" y2="448.8" stroke="#111" stroke-width="1.3" stroke-linecap="butt"/>
<text x="390.82" y="462.3" font-size="10.2" text-anchor="middle" fill="#111">30</text>
<line x1="409.56" y1="444.5" x2="409.56" y2="448.8" stroke="#111" stroke-width="1.3" stroke-linecap="butt"/>
<text x="409.56" y="462.3" font-size="10.2" text-anchor="middle" fill="#111">40</text>
<text x="428.3" y="462.3" font-size="10.2" text-anchor="middle" fill="#111">50</text>
<line x1="446.7" y1="444.5" x2="500.2" y2="444.5" stroke="#111" stroke-width="1.7" stroke-linecap="butt"/>
<line x1="446.7" y1="440.3" x2="446.7" y2="448.7" stroke="#111" stroke-width="1.3" stroke-linecap="butt"/>
<text x="446.7" y="462.3" font-size="10.2" text-anchor="middle" fill="#111">200</text>
<line x1="496.2" y1="444.5" x2="496.2" y2="448.8" stroke="#111" stroke-width="1.3" stroke-linecap="butt"/>
<text x="496.2" y="462.3" font-size="10.2" text-anchor="middle" fill="#111">300</text>
<text x="417.25" y="481.2" font-size="13.1" text-anchor="middle" fill="#111" textLength="41.9" lengthAdjust="spacingAndGlyphs">Time (s)</text>
<text x="292.2" y="375.3" font-size="13.4" text-anchor="middle" fill="#111" textLength="80.2" lengthAdjust="spacingAndGlyphs" transform="rotate(-90 292.2 375.3)">P-selectin (MFI)</text>
<text transform="translate(268.4 277.1) scale(0.97 1)" x="0" y="0" font-size="15.7" text-rendering="geometricPrecision" fill="#111">D</text>
<line x1="343.1" y1="314.8" x2="357.7" y2="314.8" stroke="#3f5a8a" stroke-width="1.1" stroke-linecap="butt"/>
<circle cx="350.4" cy="314.8" r="3.2" fill="none" stroke="#3f5a8a" stroke-width="1.25"/>
<line x1="359.8" y1="314.8" x2="374.4" y2="314.8" stroke="#9e1f36" stroke-width="1.1" stroke-linecap="butt"/>
<circle cx="367.1" cy="314.8" r="3.2" fill="none" stroke="#9e1f36" stroke-width="1.25"/>
<text x="378.8" y="318.4" font-size="10.2" text-anchor="start" fill="#111" textLength="36.9" lengthAdjust="spacingAndGlyphs">0.1 U/ml</text>
<line x1="343.1" y1="330.7" x2="357.7" y2="330.7" stroke="#3f5a8a" stroke-width="1.1" stroke-linecap="butt"/>
<rect x="347.3" y="327.6" width="6.2" height="6.2" fill="none" stroke="#3f5a8a" stroke-width="1.25"/>
<line x1="359.8" y1="330.7" x2="374.4" y2="330.7" stroke="#9e1f36" stroke-width="1.1" stroke-linecap="butt"/>
<rect x="364" y="327.6" width="6.2" height="6.2" fill="none" stroke="#9e1f36" stroke-width="1.25"/>
<text x="378.8" y="334.3" font-size="10.2" text-anchor="start" fill="#111" textLength="29.3" lengthAdjust="spacingAndGlyphs">1 U/ml</text>
<polyline points="334.6,428.7 390.7,427.9 428.3,411.93" fill="none" stroke="#9e1f36" stroke-width="1.1" stroke-linejoin="round"/>
<polyline points="446.7,404.12 496.2,383.1" fill="none" stroke="#9e1f36" stroke-width="1.1" stroke-linejoin="round"/>
<polyline points="334.6,428 390.7,425.7 428.3,420" fill="none" stroke="#9e1f36" stroke-width="1.1" stroke-linejoin="round" stroke-dasharray="4.6,2.6"/>
<polyline points="446.7,417.21 496.2,409.7" fill="none" stroke="#9e1f36" stroke-width="1.1" stroke-linejoin="round" stroke-dasharray="4.6,2.6"/>
<polyline points="334.6,428.7 390.7,387.3 428.3,372.87" fill="none" stroke="#9e1f36" stroke-width="1.1" stroke-linejoin="round"/>
<polyline points="446.7,365.8 496.2,346.8" fill="none" stroke="#9e1f36" stroke-width="1.1" stroke-linejoin="round"/>
<polyline points="334.6,428 390.7,381.8 428.3,371.29" fill="none" stroke="#9e1f36" stroke-width="1.1" stroke-linejoin="round" stroke-dasharray="4.6,2.6"/>
<polyline points="446.7,366.14 496.2,352.3" fill="none" stroke="#9e1f36" stroke-width="1.1" stroke-linejoin="round" stroke-dasharray="4.6,2.6"/>
<polyline points="334.6,423.8 390.7,423.3 428.3,415.67" fill="none" stroke="#3f5a8a" stroke-width="1.1" stroke-linejoin="round"/>
<polyline points="446.7,411.94 496.2,401.9" fill="none" stroke="#3f5a8a" stroke-width="1.1" stroke-linejoin="round"/>
<polyline points="334.6,423.8 390.7,419.3 428.3,413.1" fill="none" stroke="#3f5a8a" stroke-width="1.1" stroke-linejoin="round" stroke-dasharray="4.6,2.6"/>
<polyline points="446.7,410.06 496.2,401.9" fill="none" stroke="#3f5a8a" stroke-width="1.1" stroke-linejoin="round" stroke-dasharray="4.6,2.6"/>
<polyline points="334.6,423.8 390.7,375.8 428.3,358.94" fill="none" stroke="#3f5a8a" stroke-width="1.1" stroke-linejoin="round"/>
<polyline points="446.7,350.69 496.2,328.5" fill="none" stroke="#3f5a8a" stroke-width="1.1" stroke-linejoin="round"/>
<polyline points="334.6,423.8 390.7,363.8 428.3,350.86" fill="none" stroke="#3f5a8a" stroke-width="1.1" stroke-linejoin="round" stroke-dasharray="4.6,2.6"/>
<polyline points="446.7,344.53 496.2,327.5" fill="none" stroke="#3f5a8a" stroke-width="1.1" stroke-linejoin="round" stroke-dasharray="4.6,2.6"/>
<circle cx="334.6" cy="428.7" r="3.2" fill="none" stroke="#9e1f36" stroke-width="1.25"/>
<circle cx="390.7" cy="427.9" r="3.2" fill="none" stroke="#9e1f36" stroke-width="1.25"/>
<circle cx="496.2" cy="383.1" r="3.2" fill="none" stroke="#9e1f36" stroke-width="1.25"/>
<line x1="496.2" y1="405" x2="496.2" y2="406.5" stroke="#9e1f36" stroke-width="1.0" stroke-linecap="butt"/>
<line x1="496.2" y1="412.9" x2="496.2" y2="414.5" stroke="#9e1f36" stroke-width="1.0" stroke-linecap="butt"/>
<line x1="492.8" y1="405" x2="499.6" y2="405" stroke="#9e1f36" stroke-width="1.1" stroke-linecap="butt"/>
<line x1="492.8" y1="414.5" x2="499.6" y2="414.5" stroke="#9e1f36" stroke-width="1.1" stroke-linecap="butt"/>
<circle cx="334.6" cy="428" r="3.2" fill="none" stroke="#9e1f36" stroke-width="1.25"/>
<circle cx="390.7" cy="425.7" r="3.2" fill="none" stroke="#9e1f36" stroke-width="1.25"/>
<circle cx="496.2" cy="409.7" r="3.2" fill="none" stroke="#9e1f36" stroke-width="1.25"/>
<line x1="390.7" y1="380.5" x2="390.7" y2="384.2" stroke="#9e1f36" stroke-width="1.0" stroke-linecap="butt"/>
<line x1="390.7" y1="390.4" x2="390.7" y2="393" stroke="#9e1f36" stroke-width="1.0" stroke-linecap="butt"/>
<line x1="387.3" y1="380.5" x2="394.1" y2="380.5" stroke="#9e1f36" stroke-width="1.1" stroke-linecap="butt"/>
<line x1="387.3" y1="393" x2="394.1" y2="393" stroke="#9e1f36" stroke-width="1.1" stroke-linecap="butt"/>
<rect x="331.5" y="425.6" width="6.2" height="6.2" fill="none" stroke="#9e1f36" stroke-width="1.25"/>
<rect x="387.6" y="384.2" width="6.2" height="6.2" fill="none" stroke="#9e1f36" stroke-width="1.25"/>
<rect x="493.1" y="343.7" width="6.2" height="6.2" fill="none" stroke="#9e1f36" stroke-width="1.25"/>
<rect x="331.5" y="424.9" width="6.2" height="6.2" fill="none" stroke="#9e1f36" stroke-width="1.25"/>
<rect x="387.6" y="378.7" width="6.2" height="6.2" fill="none" stroke="#9e1f36" stroke-width="1.25"/>
<rect x="493.1" y="349.2" width="6.2" height="6.2" fill="none" stroke="#9e1f36" stroke-width="1.25"/>
<line x1="496.2" y1="398" x2="496.2" y2="398.7" stroke="#3f5a8a" stroke-width="1.0" stroke-linecap="butt"/>
<line x1="496.2" y1="405.1" x2="496.2" y2="405.5" stroke="#3f5a8a" stroke-width="1.0" stroke-linecap="butt"/>
<line x1="492.8" y1="398" x2="499.6" y2="398" stroke="#3f5a8a" stroke-width="1.1" stroke-linecap="butt"/>
<line x1="492.8" y1="405.5" x2="499.6" y2="405.5" stroke="#3f5a8a" stroke-width="1.1" stroke-linecap="butt"/>
<circle cx="334.6" cy="423.8" r="3.2" fill="none" stroke="#3f5a8a" stroke-width="1.25"/>
<circle cx="390.7" cy="423.3" r="3.2" fill="none" stroke="#3f5a8a" stroke-width="1.25"/>
<circle cx="496.2" cy="401.9" r="3.2" fill="none" stroke="#3f5a8a" stroke-width="1.25"/>
<circle cx="334.6" cy="423.8" r="3.2" fill="none" stroke="#3f5a8a" stroke-width="1.25"/>
<circle cx="390.7" cy="419.3" r="3.2" fill="none" stroke="#3f5a8a" stroke-width="1.25"/>
<circle cx="496.2" cy="401.9" r="3.2" fill="none" stroke="#3f5a8a" stroke-width="1.25"/>
<rect x="331.5" y="420.7" width="6.2" height="6.2" fill="none" stroke="#3f5a8a" stroke-width="1.25"/>
<rect x="387.6" y="372.7" width="6.2" height="6.2" fill="none" stroke="#3f5a8a" stroke-width="1.25"/>
<rect x="493.1" y="325.4" width="6.2" height="6.2" fill="none" stroke="#3f5a8a" stroke-width="1.25"/>
<line x1="390.7" y1="356.2" x2="390.7" y2="360.7" stroke="#3f5a8a" stroke-width="1.0" stroke-linecap="butt"/>
<line x1="390.7" y1="366.9" x2="390.7" y2="371.4" stroke="#3f5a8a" stroke-width="1.0" stroke-linecap="butt"/>
<line x1="387.3" y1="356.2" x2="394.1" y2="356.2" stroke="#3f5a8a" stroke-width="1.1" stroke-linecap="butt"/>
<line x1="387.3" y1="371.4" x2="394.1" y2="371.4" stroke="#3f5a8a" stroke-width="1.1" stroke-linecap="butt"/>
<line x1="496.2" y1="322.4" x2="496.2" y2="324.4" stroke="#3f5a8a" stroke-width="1.0" stroke-linecap="butt"/>
<line x1="496.2" y1="330.6" x2="496.2" y2="333" stroke="#3f5a8a" stroke-width="1.0" stroke-linecap="butt"/>
<line x1="492.8" y1="322.4" x2="499.6" y2="322.4" stroke="#3f5a8a" stroke-width="1.1" stroke-linecap="butt"/>
<line x1="492.8" y1="333" x2="499.6" y2="333" stroke="#3f5a8a" stroke-width="1.1" stroke-linecap="butt"/>
<rect x="331.5" y="420.7" width="6.2" height="6.2" fill="none" stroke="#3f5a8a" stroke-width="1.25"/>
<rect x="387.6" y="360.7" width="6.2" height="6.2" fill="none" stroke="#3f5a8a" stroke-width="1.25"/>
<rect x="493.1" y="324.4" width="6.2" height="6.2" fill="none" stroke="#3f5a8a" stroke-width="1.25"/>
<line x1="75.7" y1="523.2" x2="75.7" y2="662.1" stroke="#111" stroke-width="1.8" stroke-linecap="butt"/>
<line x1="70.9" y1="527.3" x2="75.7" y2="527.3" stroke="#111" stroke-width="1.3" stroke-linecap="butt"/>
<text x="67.7" y="531" font-size="10.2" text-anchor="end" fill="#111">1500</text>
<line x1="70.9" y1="570.6" x2="75.7" y2="570.6" stroke="#111" stroke-width="1.3" stroke-linecap="butt"/>
<text x="67.7" y="574.3" font-size="10.2" text-anchor="end" fill="#111">1000</text>
<line x1="70.9" y1="614.3" x2="75.7" y2="614.3" stroke="#111" stroke-width="1.3" stroke-linecap="butt"/>
<text x="67.7" y="618" font-size="10.2" text-anchor="end" fill="#111">500</text>
<line x1="70.9" y1="657.8" x2="75.7" y2="657.8" stroke="#111" stroke-width="1.3" stroke-linecap="butt"/>
<text x="67.7" y="661.5" font-size="10.2" text-anchor="end" fill="#111">0</text>
<line x1="75.7" y1="657.8" x2="177.4" y2="657.8" stroke="#111" stroke-width="1.7" stroke-linecap="butt"/>
<line x1="177.4" y1="653.6" x2="177.4" y2="662" stroke="#111" stroke-width="1.3" stroke-linecap="butt"/>
<text x="75.6" y="675.6" font-size="10.2" text-anchor="middle" fill="#111">0</text>
<line x1="95.96" y1="657.8" x2="95.96" y2="662.1" stroke="#111" stroke-width="1.3" stroke-linecap="butt"/>
<text x="95.96" y="675.6" font-size="10.2" text-anchor="middle" fill="#111">10</text>
<line x1="116.32" y1="657.8" x2="116.32" y2="662.1" stroke="#111" stroke-width="1.3" stroke-linecap="butt"/>
<text x="116.32" y="675.6" font-size="10.2" text-anchor="middle" fill="#111">20</text>
<line x1="136.68" y1="657.8" x2="136.68" y2="662.1" stroke="#111" stroke-width="1.3" stroke-linecap="butt"/>
<text x="136.68" y="675.6" font-size="10.2" text-anchor="middle" fill="#111">30</text>
<line x1="157.04" y1="657.8" x2="157.04" y2="662.1" stroke="#111" stroke-width="1.3" stroke-linecap="butt"/>
<text x="157.04" y="675.6" font-size="10.2" text-anchor="middle" fill="#111">40</text>
<text x="177.4" y="675.6" font-size="10.2" text-anchor="middle" fill="#111">50</text>
<line x1="197.1" y1="657.8" x2="241.3" y2="657.8" stroke="#111" stroke-width="1.7" stroke-linecap="butt"/>
<line x1="197.1" y1="653.6" x2="197.1" y2="662" stroke="#111" stroke-width="1.3" stroke-linecap="butt"/>
<text x="197.1" y="675.6" font-size="10.2" text-anchor="middle" fill="#111">200</text>
<line x1="217.3" y1="657.8" x2="217.3" y2="662.1" stroke="#111" stroke-width="1.3" stroke-linecap="butt"/>
<text x="217.3" y="675.6" font-size="10.2" text-anchor="middle" fill="#111">250</text>
<line x1="237.5" y1="657.8" x2="237.5" y2="662.1" stroke="#111" stroke-width="1.3" stroke-linecap="butt"/>
<text x="237.5" y="675.6" font-size="10.2" text-anchor="middle" fill="#111">300</text>
<text x="158.5" y="694.4" font-size="13.1" text-anchor="middle" fill="#111" textLength="42.1" lengthAdjust="spacingAndGlyphs">Time (s)</text>
<text x="33.5" y="590.6" font-size="13.4" text-anchor="middle" fill="#111" textLength="68.8" lengthAdjust="spacingAndGlyphs" transform="rotate(-90 33.5 590.6)">LAMP1 (MFI)</text>
<text transform="translate(11.1 519.8) scale(0.76 1)" x="0" y="0" font-size="15.7" text-rendering="geometricPrecision" fill="#111">E</text>
<line x1="83.7" y1="529.1" x2="98.3" y2="529.1" stroke="#3f5a8a" stroke-width="1.1" stroke-linecap="butt"/>
<circle cx="91" cy="529.1" r="3.2" fill="none" stroke="#3f5a8a" stroke-width="1.25"/>
<line x1="101.1" y1="529.1" x2="115.7" y2="529.1" stroke="#9e1f36" stroke-width="1.1" stroke-linecap="butt"/>
<circle cx="108.4" cy="529.1" r="3.2" fill="none" stroke="#9e1f36" stroke-width="1.25"/>
<text x="120.4" y="532.7" font-size="10.2" text-anchor="start" fill="#111" textLength="39" lengthAdjust="spacingAndGlyphs">0.1 U/mL</text>
<line x1="83.7" y1="544.6" x2="98.3" y2="544.6" stroke="#3f5a8a" stroke-width="1.1" stroke-linecap="butt"/>
<rect x="87.9" y="541.5" width="6.2" height="6.2" fill="none" stroke="#3f5a8a" stroke-width="1.25"/>
<line x1="101.1" y1="544.6" x2="115.7" y2="544.6" stroke="#9e1f36" stroke-width="1.1" stroke-linecap="butt"/>
<rect x="105.3" y="541.5" width="6.2" height="6.2" fill="none" stroke="#9e1f36" stroke-width="1.25"/>
<text x="120.4" y="548.2" font-size="10.2" text-anchor="start" fill="#111" textLength="31.3" lengthAdjust="spacingAndGlyphs">1 U/mL</text>
<polyline points="75.6,653.7 136.6,643.8 177.4,631.43" fill="none" stroke="#9e1f36" stroke-width="1.1" stroke-linejoin="round"/>
<polyline points="197.1,625.45 237.5,613.2" fill="none" stroke="#9e1f36" stroke-width="1.1" stroke-linejoin="round"/>
<polyline points="75.6,653.7 136.6,596 177.4,585.08" fill="none" stroke="#9e1f36" stroke-width="1.1" stroke-linejoin="round"/>
<polyline points="197.1,579.81 237.5,569" fill="none" stroke="#9e1f36" stroke-width="1.1" stroke-linejoin="round"/>
<polyline points="75.6,653.7 136.6,655.2 177.4,652.85" fill="none" stroke="#3f5a8a" stroke-width="1.1" stroke-linejoin="round"/>
<polyline points="197.1,651.72 237.5,649.4" fill="none" stroke="#3f5a8a" stroke-width="1.1" stroke-linejoin="round"/>
<polyline points="75.6,653.7 136.6,622.4 177.4,611.32" fill="none" stroke="#3f5a8a" stroke-width="1.1" stroke-linejoin="round"/>
<polyline points="197.1,605.97 237.5,595" fill="none" stroke="#3f5a8a" stroke-width="1.1" stroke-linejoin="round"/>
<circle cx="75.6" cy="653.7" r="3.2" fill="none" stroke="#9e1f36" stroke-width="1.25"/>
<circle cx="136.6" cy="643.8" r="3.2" fill="none" stroke="#9e1f36" stroke-width="1.25"/>
<circle cx="237.5" cy="613.2" r="3.2" fill="none" stroke="#9e1f36" stroke-width="1.25"/>
<line x1="136.6" y1="592.6" x2="136.6" y2="592.9" stroke="#9e1f36" stroke-width="1.0" stroke-linecap="butt"/>
<line x1="136.6" y1="599.1" x2="136.6" y2="599.4" stroke="#9e1f36" stroke-width="1.0" stroke-linecap="butt"/>
<line x1="133.2" y1="592.6" x2="140" y2="592.6" stroke="#9e1f36" stroke-width="1.1" stroke-linecap="butt"/>
<line x1="133.2" y1="599.4" x2="140" y2="599.4" stroke="#9e1f36" stroke-width="1.1" stroke-linecap="butt"/>
<line x1="237.5" y1="565.2" x2="237.5" y2="565.9" stroke="#9e1f36" stroke-width="1.0" stroke-linecap="butt"/>
<line x1="237.5" y1="572.1" x2="237.5" y2="572.8" stroke="#9e1f36" stroke-width="1.0" stroke-linecap="butt"/>
<line x1="234.1" y1="565.2" x2="240.9" y2="565.2" stroke="#9e1f36" stroke-width="1.1" stroke-linecap="butt"/>
<line x1="234.1" y1="572.8" x2="240.9" y2="572.8" stroke="#9e1f36" stroke-width="1.1" stroke-linecap="butt"/>
<rect x="72.5" y="650.6" width="6.2" height="6.2" fill="none" stroke="#9e1f36" stroke-width="1.25"/>
<rect x="133.5" y="592.9" width="6.2" height="6.2" fill="none" stroke="#9e1f36" stroke-width="1.25"/>
<rect x="234.4" y="565.9" width="6.2" height="6.2" fill="none" stroke="#9e1f36" stroke-width="1.25"/>
<circle cx="75.6" cy="653.7" r="3.2" fill="none" stroke="#3f5a8a" stroke-width="1.25"/>
<circle cx="136.6" cy="655.2" r="3.2" fill="none" stroke="#3f5a8a" stroke-width="1.25"/>
<circle cx="237.5" cy="649.4" r="3.2" fill="none" stroke="#3f5a8a" stroke-width="1.25"/>
<line x1="136.6" y1="614.6" x2="136.6" y2="619.3" stroke="#3f5a8a" stroke-width="1.0" stroke-linecap="butt"/>
<line x1="136.6" y1="625.5" x2="136.6" y2="629.8" stroke="#3f5a8a" stroke-width="1.0" stroke-linecap="butt"/>
<line x1="133.2" y1="614.6" x2="140" y2="614.6" stroke="#3f5a8a" stroke-width="1.1" stroke-linecap="butt"/>
<line x1="133.2" y1="629.8" x2="140" y2="629.8" stroke="#3f5a8a" stroke-width="1.1" stroke-linecap="butt"/>
<line x1="237.5" y1="580.4" x2="237.5" y2="591.9" stroke="#3f5a8a" stroke-width="1.0" stroke-linecap="butt"/>
<line x1="237.5" y1="598.1" x2="237.5" y2="609.4" stroke="#3f5a8a" stroke-width="1.0" stroke-linecap="butt"/>
<line x1="234.1" y1="580.4" x2="240.9" y2="580.4" stroke="#3f5a8a" stroke-width="1.1" stroke-linecap="butt"/>
<line x1="234.1" y1="609.4" x2="240.9" y2="609.4" stroke="#3f5a8a" stroke-width="1.1" stroke-linecap="butt"/>
<rect x="72.5" y="650.6" width="6.2" height="6.2" fill="none" stroke="#3f5a8a" stroke-width="1.25"/>
<rect x="133.5" y="619.3" width="6.2" height="6.2" fill="none" stroke="#3f5a8a" stroke-width="1.25"/>
<rect x="234.4" y="591.9" width="6.2" height="6.2" fill="none" stroke="#3f5a8a" stroke-width="1.25"/>
<line x1="334.4" y1="522.2" x2="334.4" y2="662.1" stroke="#111" stroke-width="1.8" stroke-linecap="butt"/>
<line x1="329.6" y1="526.4" x2="334.4" y2="526.4" stroke="#111" stroke-width="1.3" stroke-linecap="butt"/>
<text x="326.4" y="530.1" font-size="10.2" text-anchor="end" fill="#111">1500</text>
<line x1="329.6" y1="570.4" x2="334.4" y2="570.4" stroke="#111" stroke-width="1.3" stroke-linecap="butt"/>
<text x="326.4" y="574.1" font-size="10.2" text-anchor="end" fill="#111">1000</text>
<line x1="329.6" y1="614.3" x2="334.4" y2="614.3" stroke="#111" stroke-width="1.3" stroke-linecap="butt"/>
<text x="326.4" y="618" font-size="10.2" text-anchor="end" fill="#111">500</text>
<line x1="329.6" y1="657.8" x2="334.4" y2="657.8" stroke="#111" stroke-width="1.3" stroke-linecap="butt"/>
<text x="326.4" y="661.5" font-size="10.2" text-anchor="end" fill="#111">0</text>
<line x1="334.4" y1="657.8" x2="438.8" y2="657.8" stroke="#111" stroke-width="1.7" stroke-linecap="butt"/>
<line x1="438.8" y1="653.6" x2="438.8" y2="662" stroke="#111" stroke-width="1.3" stroke-linecap="butt"/>
<text x="334.5" y="675.6" font-size="10.2" text-anchor="middle" fill="#111">0</text>
<line x1="355.36" y1="657.8" x2="355.36" y2="662.1" stroke="#111" stroke-width="1.3" stroke-linecap="butt"/>
<text x="355.36" y="675.6" font-size="10.2" text-anchor="middle" fill="#111">10</text>
<line x1="376.22" y1="657.8" x2="376.22" y2="662.1" stroke="#111" stroke-width="1.3" stroke-linecap="butt"/>
<text x="376.22" y="675.6" font-size="10.2" text-anchor="middle" fill="#111">20</text>
<line x1="397.08" y1="657.8" x2="397.08" y2="662.1" stroke="#111" stroke-width="1.3" stroke-linecap="butt"/>
<text x="397.08" y="675.6" font-size="10.2" text-anchor="middle" fill="#111">30</text>
<line x1="417.94" y1="657.8" x2="417.94" y2="662.1" stroke="#111" stroke-width="1.3" stroke-linecap="butt"/>
<text x="417.94" y="675.6" font-size="10.2" text-anchor="middle" fill="#111">40</text>
<text x="438.8" y="675.6" font-size="10.2" text-anchor="middle" fill="#111">50</text>
<line x1="457.5" y1="657.8" x2="504" y2="657.8" stroke="#111" stroke-width="1.7" stroke-linecap="butt"/>
<line x1="457.5" y1="653.6" x2="457.5" y2="662" stroke="#111" stroke-width="1.3" stroke-linecap="butt"/>
<text x="457.5" y="675.6" font-size="10.2" text-anchor="middle" fill="#111">200</text>
<line x1="478.6" y1="657.8" x2="478.6" y2="662.1" stroke="#111" stroke-width="1.3" stroke-linecap="butt"/>
<text x="478.6" y="675.6" font-size="10.2" text-anchor="middle" fill="#111">250</text>
<line x1="499.8" y1="657.8" x2="499.8" y2="662.1" stroke="#111" stroke-width="1.3" stroke-linecap="butt"/>
<text x="499.8" y="675.6" font-size="10.2" text-anchor="middle" fill="#111">300</text>
<text x="419.6" y="694.4" font-size="13.1" text-anchor="middle" fill="#111" textLength="41.9" lengthAdjust="spacingAndGlyphs">Time (s)</text>
<text x="292.5" y="590.1" font-size="13.4" text-anchor="middle" fill="#111" textLength="69.2" lengthAdjust="spacingAndGlyphs" transform="rotate(-90 292.5 590.1)">LAMP1 (MFI)</text>
<text transform="translate(269.9 519.8) scale(0.87 1)" x="0" y="0" font-size="15.7" text-rendering="geometricPrecision" fill="#111">F</text>
<line x1="343.3" y1="528" x2="357.9" y2="528" stroke="#3f5a8a" stroke-width="1.1" stroke-linecap="butt"/>
<rect x="347.5" y="524.9" width="6.2" height="6.2" fill="none" stroke="#3f5a8a" stroke-width="1.25"/>
<line x1="360" y1="528" x2="374.6" y2="528" stroke="#9e1f36" stroke-width="1.1" stroke-linecap="butt"/>
<rect x="364.2" y="524.9" width="6.2" height="6.2" fill="none" stroke="#9e1f36" stroke-width="1.25"/>
<text x="379.8" y="531.6" font-size="10.2" text-anchor="start" fill="#111" textLength="30.4" lengthAdjust="spacingAndGlyphs">1 U/mL</text>
<polyline points="334.5,655.5 397.2,583.5 438.8,571.21" fill="none" stroke="#9e1f36" stroke-width="1.1" stroke-linejoin="round"/>
<polyline points="457.5,565.69 499.8,553.2" fill="none" stroke="#9e1f36" stroke-width="1.1" stroke-linejoin="round"/>
<polyline points="334.5,656.2 397.2,588.1 438.8,574.07" fill="none" stroke="#9e1f36" stroke-width="1.1" stroke-linejoin="round" stroke-dasharray="4.6,2.6"/>
<polyline points="457.5,567.76 499.8,553.5" fill="none" stroke="#9e1f36" stroke-width="1.1" stroke-linejoin="round" stroke-dasharray="4.6,2.6"/>
<polyline points="334.5,652.4 397.2,608.9 499.8,574" fill="none" stroke="#3f5a8a" stroke-width="1.1" stroke-linejoin="round"/>
<polyline points="334.5,652.4 397.2,605.4 499.8,564.1" fill="none" stroke="#3f5a8a" stroke-width="1.1" stroke-linejoin="round" stroke-dasharray="4.6,2.6"/>
<line x1="397.2" y1="572.6" x2="397.2" y2="580.4" stroke="#9e1f36" stroke-width="1.0" stroke-linecap="butt"/>
<line x1="397.2" y1="586.6" x2="397.2" y2="594.5" stroke="#9e1f36" stroke-width="1.0" stroke-linecap="butt"/>
<line x1="393.8" y1="572.6" x2="400.6" y2="572.6" stroke="#9e1f36" stroke-width="1.1" stroke-linecap="butt"/>
<line x1="393.8" y1="594.5" x2="400.6" y2="594.5" stroke="#9e1f36" stroke-width="1.1" stroke-linecap="butt"/>
<line x1="499.8" y1="537.1" x2="499.8" y2="550.1" stroke="#9e1f36" stroke-width="1.0" stroke-linecap="butt"/>
<line x1="499.8" y1="556.3" x2="499.8" y2="568" stroke="#9e1f36" stroke-width="1.0" stroke-linecap="butt"/>
<line x1="496.4" y1="537.1" x2="503.2" y2="537.1" stroke="#9e1f36" stroke-width="1.1" stroke-linecap="butt"/>
<line x1="496.4" y1="568" x2="503.2" y2="568" stroke="#9e1f36" stroke-width="1.1" stroke-linecap="butt"/>
<rect x="331.4" y="652.4" width="6.2" height="6.2" fill="none" stroke="#9e1f36" stroke-width="1.25"/>
<rect x="394.1" y="580.4" width="6.2" height="6.2" fill="none" stroke="#9e1f36" stroke-width="1.25"/>
<rect x="496.7" y="550.1" width="6.2" height="6.2" fill="none" stroke="#9e1f36" stroke-width="1.25"/>
<line x1="397.2" y1="576.3" x2="397.2" y2="600" stroke="#9e1f36" stroke-width="1.0" stroke-linecap="butt"/>
<line x1="393.8" y1="576.3" x2="400.6" y2="576.3" stroke="#9e1f36" stroke-width="1.1" stroke-linecap="butt"/>
<line x1="393.8" y1="600" x2="400.6" y2="600" stroke="#9e1f36" stroke-width="1.1" stroke-linecap="butt"/>
<line x1="499.8" y1="537.9" x2="499.8" y2="568.5" stroke="#9e1f36" stroke-width="1.0" stroke-linecap="butt"/>
<line x1="496.4" y1="537.9" x2="503.2" y2="537.9" stroke="#9e1f36" stroke-width="1.1" stroke-linecap="butt"/>
<line x1="496.4" y1="568.5" x2="503.2" y2="568.5" stroke="#9e1f36" stroke-width="1.1" stroke-linecap="butt"/>
<rect x="331.7" y="653.4" width="5.6" height="5.6" fill="#a8364a" stroke="#9e1f36" stroke-width="0.8"/>
<rect x="394.4" y="585.3" width="5.6" height="5.6" fill="#a8364a" stroke="#9e1f36" stroke-width="0.8"/>
<rect x="497" y="550.7" width="5.6" height="5.6" fill="#a8364a" stroke="#9e1f36" stroke-width="0.8"/>
<line x1="397.2" y1="598.5" x2="397.2" y2="605.8" stroke="#3f5a8a" stroke-width="1.0" stroke-linecap="butt"/>
<line x1="397.2" y1="612" x2="397.2" y2="619.3" stroke="#3f5a8a" stroke-width="1.0" stroke-linecap="butt"/>
<line x1="393.8" y1="598.5" x2="400.6" y2="598.5" stroke="#3f5a8a" stroke-width="1.1" stroke-linecap="butt"/>
<line x1="393.8" y1="619.3" x2="400.6" y2="619.3" stroke="#3f5a8a" stroke-width="1.1" stroke-linecap="butt"/>
<line x1="499.8" y1="555.7" x2="499.8" y2="570.9" stroke="#3f5a8a" stroke-width="1.0" stroke-linecap="butt"/>
<line x1="499.8" y1="577.1" x2="499.8" y2="592.3" stroke="#3f5a8a" stroke-width="1.0" stroke-linecap="butt"/>
<line x1="496.4" y1="555.7" x2="503.2" y2="555.7" stroke="#3f5a8a" stroke-width="1.1" stroke-linecap="butt"/>
<line x1="496.4" y1="592.3" x2="503.2" y2="592.3" stroke="#3f5a8a" stroke-width="1.1" stroke-linecap="butt"/>
<rect x="331.4" y="649.3" width="6.2" height="6.2" fill="none" stroke="#3f5a8a" stroke-width="1.25"/>
<rect x="394.1" y="605.8" width="6.2" height="6.2" fill="none" stroke="#3f5a8a" stroke-width="1.25"/>
<rect x="496.7" y="570.9" width="6.2" height="6.2" fill="none" stroke="#3f5a8a" stroke-width="1.25"/>
<line x1="397.2" y1="595.8" x2="397.2" y2="615.8" stroke="#3f5a8a" stroke-width="1.0" stroke-linecap="butt"/>
<line x1="393.8" y1="595.8" x2="400.6" y2="595.8" stroke="#3f5a8a" stroke-width="1.1" stroke-linecap="butt"/>
<line x1="393.8" y1="615.8" x2="400.6" y2="615.8" stroke="#3f5a8a" stroke-width="1.1" stroke-linecap="butt"/>
<line x1="499.8" y1="544.6" x2="499.8" y2="584.4" stroke="#3f5a8a" stroke-width="1.0" stroke-linecap="butt"/>
<line x1="496.4" y1="544.6" x2="503.2" y2="544.6" stroke="#3f5a8a" stroke-width="1.1" stroke-linecap="butt"/>
<line x1="496.4" y1="584.4" x2="503.2" y2="584.4" stroke="#3f5a8a" stroke-width="1.1" stroke-linecap="butt"/>
<rect x="331.7" y="649.6" width="5.6" height="5.6" fill="#4a6592" stroke="#3f5a8a" stroke-width="0.8"/>
<rect x="394.4" y="602.6" width="5.6" height="5.6" fill="#4a6592" stroke="#3f5a8a" stroke-width="0.8"/>
<rect x="497" y="561.3" width="5.6" height="5.6" fill="#4a6592" stroke="#3f5a8a" stroke-width="0.8"/>
<rect x="0.5" y="0.5" width="519" height="707" fill="none" stroke="#808080" stroke-width="1"/>
<rect x="1.5" y="1.5" width="517" height="705" fill="none" stroke="#333" stroke-width="1"/>
<line x1="0" y1="707.5" x2="520" y2="707.5" stroke="#111" stroke-width="1"/>
</svg>
</body></html>
